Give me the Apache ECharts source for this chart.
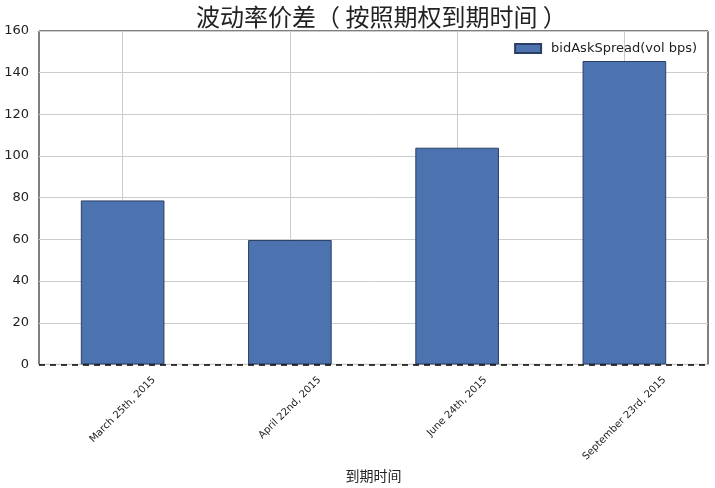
<!DOCTYPE html>
<html><head><meta charset="utf-8">
<script src="https://cdn.jsdelivr.net/npm/echarts@6/dist/echarts.min.js"></script>
<style>html,body{margin:0;padding:0;background:#fff}#c{width:715px;height:488px}</style>
</head><body><div id="c"></div>
<script>
const categories = ['March 25th, 2015', 'April 22nd, 2015', 'June 24th, 2015', 'September 23rd, 2015'];
const spreadValues = [78.7, 59.7, 104.0, 145.6];
const seriesName = 'bidAskSpread(vol bps)';
const yTicks = { min: 0, max: 160, interval: 20 };

const font = '"DejaVu Sans", "Noto Sans CJK SC", sans-serif';
const cjk = '"Noto Sans CJK SC", sans-serif';

// Matplotlib-style centred rotated labels: shift each label so its rotated
// bounding box hangs below the axis, centred on the tick.
const ctx = document.createElement('canvas').getContext('2d');
ctx.font = '10px "DejaVu Sans"';
const rich = {};
categories.forEach((c, i) => {
  const L = ctx.measureText(c).width;
  const P = (L + 11) / 2;
  rich['l' + i] = { fontFamily: font, fontSize: 10, color: '#222', padding: [P, P, 0, 0] };
});

const chart = echarts.init(document.getElementById('c'), null, { renderer: 'canvas' });
chart.setOption({
  animation: false,
  backgroundColor: '#fff',
  title: {
    text: '波动率价差（ 按照期权到期时间 ）', left: 191, top: 0,
    textStyle: { fontFamily: cjk, fontSize: 24, fontWeight: 'normal', color: '#222' }
  },
  legend: {
    right: 13, top: 37, itemWidth: 26, itemHeight: 9, itemGap: 10, icon: 'rect',
    textStyle: { fontFamily: font, fontSize: 13, color: '#222', padding: [0, 0, 0, 5] },
    data: [seriesName]
  },
  grid: { left: 39, right: 7, top: 31, bottom: 122, show: true, borderColor: '#000', borderWidth: 1, containLabel: false },
  xAxis: {
    type: 'category', data: categories,
    name: '到期时间', nameLocation: 'middle', nameGap: 100,
    nameTextStyle: { fontFamily: cjk, fontSize: 14, color: '#222' },
    axisLine: { show: false },
    axisTick: { show: false, alignWithLabel: true },
    splitLine: { show: true, alignWithLabel: true, lineStyle: { color: '#cccccc', width: 1 } },
    axisLabel: {
      rotate: 45, align: 'center', verticalAlign: 'middle', margin: 10,
      fontFamily: font, fontSize: 10, color: '#222',
      formatter: (v, i) => '{l' + i + '|' + v + '}',
      rich: rich
    }
  },
  yAxis: {
    type: 'value', min: yTicks.min, max: yTicks.max, interval: yTicks.interval,
    axisLine: { show: false }, axisTick: { show: false },
    splitLine: { lineStyle: { color: '#cccccc', width: 1 } },
    axisLabel: { fontFamily: font, fontSize: 13, color: '#222', margin: 10 }
  },
  series: [{
    name: seriesName, type: 'bar', data: spreadValues, barWidth: '50%',
    itemStyle: { color: '#4c72b0', borderColor: '#2b3f63', borderWidth: 1 },
    markLine: {
      silent: true, symbol: 'none', label: { show: false }, z: 10,
      lineStyle: { color: '#000', type: [6, 5], width: 1.5 },
      data: [{ yAxis: 0 }]
    }
  }]
});
</script></body></html>
